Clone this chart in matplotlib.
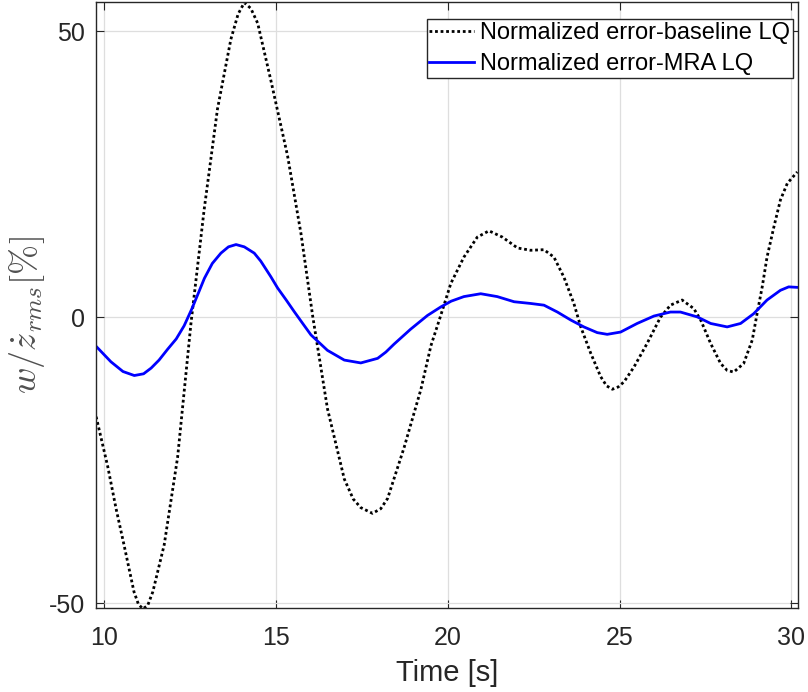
import matplotlib
matplotlib.use("Agg")
import matplotlib.pyplot as plt

# values
t_base = [9.77, 10.11, 10.35, 10.58, 10.87, 11.0, 11.13, 11.27, 11.42, 11.75,
          12.14, 12.53, 12.91, 13.3, 13.69, 13.9, 14.08, 14.27, 14.47, 14.85,
          15.34, 15.73, 16.07, 16.5, 16.99, 17.25, 17.47, 17.81, 18.05, 18.25,
          18.73, 19.22, 19.51, 19.78, 20.09, 20.47, 20.86, 21.2, 21.59, 22.03,
          22.41, 22.8, 23.09, 23.38, 23.67, 23.87, 24.16, 24.45, 24.62, 24.79,
          24.96, 25.13, 25.42, 25.8, 26.19, 26.48, 26.82, 27.16, 27.36, 27.65,
          27.94, 28.13, 28.32, 28.61, 28.86, 29.0, 29.15, 29.29, 29.49, 29.68,
          29.88, 30.17]
err_base = [-17.4, -26.2, -33.5, -39.8, -48.0, -50.2, -51.0, -50.4, -48.0, -39.8,
            -24.5, -1.0, 18.7, 36.4, 48.6, 53.0, 55.0, 54.0, 51.4, 41.5,
            28.2, 14.6, 0.2, -16.0, -28.3, -31.8, -33.3, -34.3, -33.5, -31.7,
            -22.8, -12.6, -5.0, 0.0, 5.9, 10.5, 14.0, 15.1, 14.0, 12.1,
            11.7, 11.8, 10.5, 7.0, 2.4, -1.7, -6.3, -10.4, -12.0, -12.6,
            -12.2, -11.3, -8.7, -4.6, 0.0, 2.1, 3.0, 1.5, -0.5, -4.6,
            -8.1, -9.3, -9.6, -8.1, -4.0, 0.6, 5.3, 10.5, 15.8, 20.5,
            23.4, 25.4]

t_mra = [9.77, 10.2, 10.55, 10.88, 11.15, 11.37, 11.6, 11.85, 12.1, 12.33,
         12.55, 12.75, 12.92, 13.15, 13.4, 13.62, 13.84, 14.08, 14.37, 14.56,
         14.85, 15.05, 15.3, 15.53, 15.78, 16.02, 16.5, 16.99, 17.47, 17.96,
         18.2, 18.44, 18.92, 19.41, 19.8, 20.1, 20.47, 20.96, 21.44, 21.93,
         22.41, 22.8, 23.19, 23.58, 23.96, 24.35, 24.64, 25.03, 25.51, 26.0,
         26.48, 26.77, 27.26, 27.65, 28.13, 28.52, 28.9, 29.29, 29.68, 29.92,
         30.21]
err_mra = [-5.1, -7.8, -9.5, -10.2, -9.9, -8.9, -7.5, -5.6, -3.8, -1.5,
           1.4, 4.3, 6.8, 9.4, 11.2, 12.3, 12.7, 12.3, 11.2, 9.8,
           7.1, 5.1, 3.0, 1.0, -1.1, -3.1, -5.8, -7.5, -8.0, -7.2,
           -6.1, -4.7, -2.1, 0.3, 1.8, 2.8, 3.6, 4.1, 3.6, 2.7,
           2.4, 2.1, 0.9, -0.5, -1.7, -2.7, -3.0, -2.6, -1.1, 0.2,
           0.9, 0.9, 0.05, -1.1, -1.7, -1.1, 0.6, 3.0, 4.7, 5.3,
           5.2]

plt.rcParams["font.family"] = ["Liberation Sans", "DejaVu Sans"]
plt.rcParams["mathtext.fontset"] = "cm"
plt.rcParams["axes.unicode_minus"] = False

fig = plt.figure(figsize=(8.08, 6.92), dpi=100)
ax = fig.add_axes([0.119, 0.121, 0.869, 0.876])

ax.plot(t_base, err_base, color="black", lw=2.0, linestyle=(0, (1, 1)),
        label="Normalized error-baseline LQ")
ax.plot(t_mra, err_mra, color="#0000ff", lw=2.0,
        label="Normalized error-MRA LQ")

ax.set_xlim(9.77, 30.2)
ax.set_ylim(-50.9, 55.1)
ax.set_xticks([10, 15, 20, 25, 30])
ax.set_yticks([-50, 0, 50])
ax.grid(True, color="#dedede", lw=0.9)
ax.tick_params(direction="in", top=True, right=True, labelsize=18,
               colors="#262626", length=6)
ax.tick_params(axis="x", pad=13)
ax.tick_params(axis="y", pad=8)
for s in ax.spines.values():
    s.set_color("#262626")
    s.set_linewidth(1.0)

ax.set_xlabel("Time [s]", fontsize=21, color="#262626", labelpad=6)
ax.set_ylabel(r"$w/\dot{z}_{rms}[\%]$", fontsize=26, color="#505050")
ax.yaxis.set_label_coords(-0.07, 0.483)

leg = ax.legend(loc="upper right", fontsize=17, handlelength=1.9,
                handletextpad=0.25, borderpad=0.12, labelspacing=0.4,
                fancybox=False, framealpha=1, borderaxespad=0.0,
                bbox_to_anchor=(0.9925, 0.972))
leg.get_frame().set_edgecolor("#262626")
leg.get_frame().set_linewidth(1.0)

fig.savefig("out.png", dpi=100)
